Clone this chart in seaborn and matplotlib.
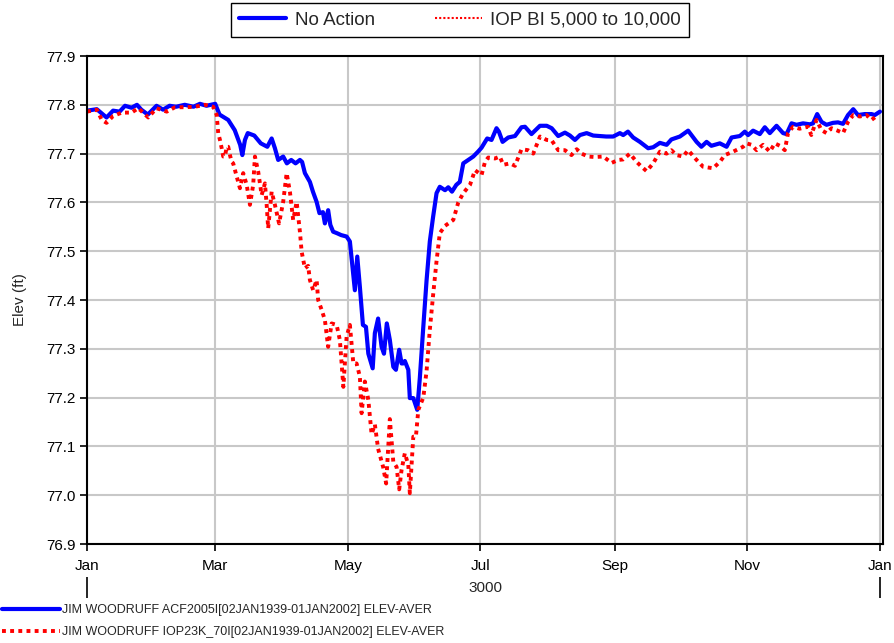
import matplotlib
matplotlib.use("Agg")
import matplotlib.pyplot as plt
import seaborn as sns
from matplotlib.lines import Line2D

# ---------------- data (day of year, elevation ft) ----------------
na_day = [0, 4.5, 9, 12, 15, 17.5, 20.5, 23, 25, 28, 32, 35, 38, 41, 45, 49, 52, 55, 59,
          61, 65, 68, 70.5, 71.5, 72.7, 74, 77, 80, 83, 85, 86.5, 88, 90.3, 92, 94, 96, 98,
          99, 100.3, 102.6, 104, 105.7, 107, 108.6, 109.5, 111, 112, 113.3, 115, 117, 119.5,
          121, 122.5, 123.3, 124.4, 125.6, 127, 128.4, 129.5, 131.5, 132.5, 134, 135.6,
          136.7, 138, 139.4, 141, 142.2, 143.7, 144.8, 145.5, 146.3, 147.9, 148.6, 150.2,
          152, 153.2, 154.8, 156.3, 157.8, 159.3, 160.9, 162.4, 164.8, 166.3, 168, 170,
          171.6, 173.2, 175.5, 177.8, 180, 181.6, 184.2, 186.2, 188.5, 189.6, 191.3, 193.9,
          197, 200, 201.6, 204.6, 208.5, 211.6, 213.9, 216.9, 220, 222.3, 224.6, 226.9, 230,
          233, 236, 239, 242.2, 245.3, 246.8, 249, 251.4, 254.5, 258.3, 260.6, 263.7, 266.8,
          269, 272.9, 276.7, 280.6, 282.8, 285.2, 287.4, 291.3, 294.4, 296.7, 300.5, 302.8,
          304.3, 306.6, 309.7, 312, 314.3, 317.4, 320.4, 322, 324.3, 326.6, 329.6, 332.7,
          334.2, 336.1, 338.1, 340.4, 343.4, 345.7, 348, 350.3, 352.7, 354.9, 358, 361.1,
          362.6, 365]
na_elev = [77.788, 77.791, 77.774, 77.788, 77.786, 77.798, 77.794, 77.800, 77.790, 77.780,
           77.798, 77.790, 77.798, 77.796, 77.800, 77.796, 77.802, 77.798, 77.802, 77.780,
           77.769, 77.748, 77.718, 77.697, 77.728, 77.742, 77.737, 77.721, 77.714, 77.731,
           77.711, 77.687, 77.694, 77.680, 77.687, 77.680, 77.687, 77.683, 77.660, 77.642,
           77.622, 77.601, 77.578, 77.580, 77.557, 77.584, 77.554, 77.540, 77.537, 77.533,
           77.530, 77.520, 77.455, 77.420, 77.489, 77.427, 77.349, 77.345, 77.290, 77.260,
           77.332, 77.362, 77.304, 77.290, 77.352, 77.318, 77.263, 77.257, 77.298, 77.270,
           77.270, 77.275, 77.257, 77.199, 77.199, 77.175, 77.240, 77.345, 77.440, 77.520,
           77.570, 77.619, 77.632, 77.625, 77.631, 77.622, 77.636, 77.642, 77.680, 77.687,
           77.694, 77.704, 77.712, 77.731, 77.728, 77.752, 77.745, 77.724, 77.733, 77.736,
           77.754, 77.755, 77.740, 77.757, 77.757, 77.752, 77.736, 77.743, 77.737, 77.728,
           77.738, 77.742, 77.737, 77.736, 77.735, 77.735, 77.742, 77.738, 77.745, 77.733,
           77.724, 77.711, 77.713, 77.722, 77.718, 77.729, 77.735, 77.747, 77.724, 77.714,
           77.724, 77.716, 77.721, 77.714, 77.733, 77.736, 77.745, 77.738, 77.747, 77.740,
           77.754, 77.742, 77.757, 77.742, 77.740, 77.762, 77.759, 77.762, 77.760, 77.762,
           77.781, 77.765, 77.759, 77.763, 77.764, 77.761, 77.779, 77.791, 77.779, 77.781,
           77.781, 77.779, 77.786]

iop_day = [0, 4.5, 6.8, 9, 12, 16, 20.5, 23.6, 28.2, 32, 36.7, 40.5, 45, 49.7, 54.3, 58.1,
           59.7, 60.4, 61.2, 62, 62.7, 63.5, 64.3, 65, 65.8, 66.6, 67.3, 68.9, 70.4, 71.9,
           73.5, 75, 76.5, 77.3, 78.8, 80.4, 81.9, 82.7, 83.4, 85, 86.5, 88.4, 90.3, 91.9,
           93.4, 94.9, 96.5, 98, 98.8, 100.3, 101.8, 102.6, 104.1, 105.7, 106.4, 108, 109.5,
           111, 112.6, 114.9, 116.4, 118, 119.5, 121, 122.6, 124.1, 125.6, 126.4, 127.9,
           129.5, 131, 132.5, 134, 136.3, 137.7, 139.4, 141, 142.5, 143.7, 144.8, 146.3,
           147.9, 148.6, 150.2, 151.4, 152.5, 154.8, 156.3, 157.8, 159.4, 160.9, 162.4,
           164.8, 168.6, 170.9, 173.2, 176.3, 178.6, 181.6, 183.2, 184.7, 187.8, 190, 191.6,
           194.7, 197, 200, 203, 205.4, 208.5, 211.6, 213.9, 216.9, 220, 223, 225.4, 227.6,
           230.7, 233.8, 237.6, 241.5, 244.5, 246.8, 249.9, 253, 255.3, 257.6, 260.6, 263.7,
           266.8, 269, 271.3, 274.4, 276.7, 280.6, 283.6, 288.2, 291.3, 293.6, 297.4, 302,
           303.6, 305.9, 308.2, 311.2, 314.3, 316.6, 318.9, 321.2, 322.7, 325, 328, 331.9,
           333.4, 335.8, 338.1, 340.4, 342.7, 345, 348, 350.3, 352.7, 355.7, 358.8, 361.1,
           364.1]
iop_elev = [77.786, 77.790, 77.769, 77.763, 77.777, 77.784, 77.784, 77.793, 77.774, 77.793,
            77.786, 77.795, 77.795, 77.796, 77.800, 77.796, 77.779, 77.742, 77.728, 77.711,
            77.694, 77.694, 77.714, 77.714, 77.697, 77.683, 77.680, 77.653, 77.629, 77.660,
            77.636, 77.595, 77.636, 77.694, 77.663, 77.615, 77.639, 77.595, 77.547, 77.622,
            77.595, 77.557, 77.601, 77.660, 77.622, 77.564, 77.601, 77.540, 77.499, 77.465,
            77.470, 77.441, 77.420, 77.441, 77.400, 77.380, 77.359, 77.304, 77.352, 77.349,
            77.318, 77.222, 77.325, 77.349, 77.270, 77.270, 77.243, 77.168, 77.233, 77.195,
            77.125, 77.145, 77.095, 77.058, 77.024, 77.156, 77.068, 77.058, 77.012, 77.052,
            77.086, 77.062, 77.004, 77.120, 77.120, 77.175, 77.200, 77.254, 77.339, 77.414,
            77.480, 77.537, 77.552, 77.564, 77.600, 77.619, 77.636, 77.666, 77.656, 77.683,
            77.692, 77.690, 77.694, 77.677, 77.680, 77.675, 77.709, 77.707, 77.700, 77.735,
            77.728, 77.727, 77.707, 77.707, 77.697, 77.709, 77.700, 77.694, 77.693, 77.694,
            77.681, 77.687, 77.688, 77.700, 77.683, 77.673, 77.664, 77.680, 77.704, 77.700,
            77.707, 77.697, 77.694, 77.707, 77.687, 77.673, 77.670, 77.683, 77.697, 77.704,
            77.714, 77.721, 77.718, 77.707, 77.718, 77.704, 77.721, 77.716, 77.707, 77.742,
            77.755, 77.751, 77.755, 77.738, 77.769, 77.748, 77.742, 77.752, 77.748, 77.742,
            77.765, 77.779, 77.776, 77.779, 77.769, 77.779]

month_ticks = [0, 59, 120, 181, 243, 304, 365]
month_labels = ["Jan", "Mar", "May", "Jul", "Sep", "Nov", "Jan"]
y_ticks = [76.9, 77.0, 77.1, 77.2, 77.3, 77.4, 77.5, 77.6, 77.7, 77.8, 77.9]
year_label = "3000"
legend_top = ["No Action", "IOP BI 5,000 to 10,000"]
legend_bottom = ["JIM WOODRUFF ACF2005I[02JAN1939-01JAN2002] ELEV-AVER",
                 "JIM WOODRUFF IOP23K_70I[02JAN1939-01JAN2002] ELEV-AVER"]

# ---------------- style ----------------
sns.set_theme(style="whitegrid")
plt.rcParams['font.family'] = ['Liberation Sans', 'DejaVu Sans']
plt.rcParams['axes.edgecolor'] = 'black'
plt.rcParams['grid.color'] = '#c8c8c8'

BLUE = '#0000ff'
RED = '#ff0000'

fig = plt.figure(figsize=(8.95, 6.43), dpi=100)
ax = fig.add_axes([87/895, 1-544/643, (883-87)/895, (544-56)/643])

sns.lineplot(x=na_day, y=na_elev, ax=ax, color=BLUE, lw=3.0, legend=False, sort=False,
             estimator=None)
sns.lineplot(x=iop_day, y=iop_elev, ax=ax, color=RED, lw=2.8, legend=False, sort=False,
             estimator=None, linestyle=(0, (1.0, 1.1)))

ax.set_xlim(0, 366.4)
ax.set_ylim(76.9, 77.9)
ax.set_xticks(month_ticks)
ax.set_xticklabels(month_labels)
ax.set_yticks(y_ticks)
ax.set_yticklabels([f"{v:.1f}" for v in y_ticks])
ax.tick_params(axis='both', labelsize=11, colors='black', direction='out', length=5, width=1.2,
               bottom=True, left=True, pad=3)
ax.tick_params(axis='x', pad=6)
ax.grid(True, color='#c8c8c8', lw=1.5)
for s in ax.spines.values():
    s.set_color('black')
    s.set_linewidth(1.5)
ax.set_xlabel("")
ax.set_ylabel("Elev (ft)", fontsize=11, labelpad=14)

# year axis below
sec = ax.secondary_xaxis('bottom')
sec.spines['bottom'].set_visible(False)
sec.set_xticks([0, 365])
sec.set_xticklabels(["", ""])
sec.tick_params(axis='x', length=15, width=1.2, direction='out', colors='black', pad=0)
sec.spines['bottom'].set_position(('outward', 24))
sec.set_xlabel(year_label, fontsize=11, labelpad=-12)

# top legend
top_handles = [Line2D([], [], color=BLUE, lw=3),
               Line2D([], [], color=RED, lw=1.5, linestyle=(0, (1, 1)))]
leg = fig.legend(top_handles, legend_top, loc='upper center',
                 bbox_to_anchor=(460/895, 1-3/643),
                 ncol=2, frameon=True, fancybox=False, edgecolor='black', framealpha=1,
                 fontsize=13.5, handlelength=2.5, columnspacing=3.2, borderpad=0.45,
                 handletextpad=0.45, borderaxespad=0)
leg.get_frame().set_linewidth(1.0)

# bottom legend
bot_handles = [Line2D([], [], color=BLUE, lw=3),
               Line2D([], [], color=RED, lw=2.8, linestyle=(0, (1.0, 1.1)))]
fig.legend(bot_handles, legend_bottom, loc='upper left', bbox_to_anchor=(-1/895, 1-602/643),
           frameon=False, fontsize=9.0, handlelength=4.7, handletextpad=0.1,
           labelspacing=0.8, borderpad=0.2, borderaxespad=0)

fig.savefig("out.png", dpi=100)
